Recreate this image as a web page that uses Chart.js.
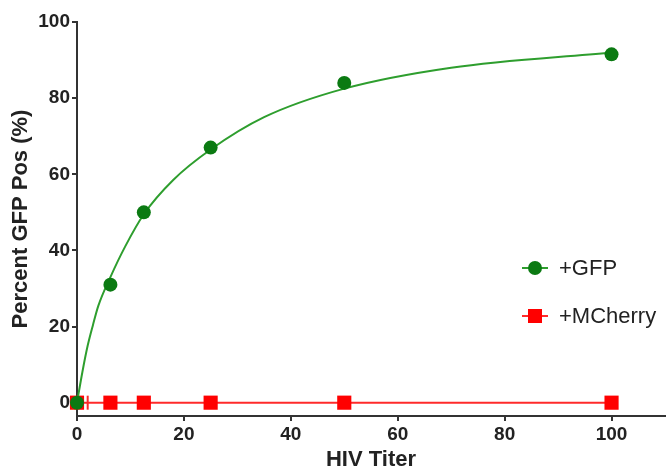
<!DOCTYPE html>
<html>
<head>
<meta charset="utf-8">
<script src="https://cdn.jsdelivr.net/npm/chart.js@4.4.0/dist/chart.umd.min.js"></script>
<style>
  html, body { margin: 0; padding: 0; background: #fff; }
  #wrap { width: 667px; height: 473px; }
</style>
</head>
<body>
<div id="wrap"><canvas id="myChart" width="667" height="473"></canvas></div>
<script>
// data
const titerValues = [0, 6.25, 12.5, 25, 50, 100];
const gfpValues = [0, 31, 50, 67, 84, 91.5];
const mcherryValues = [0, 0, 0, 0, 0, 0];
// x error of the first mcherry point (the little cap right of 0)
const mcherryErrX = 2;
// fitted curve at a few x positions
const fitX = [0, 1, 2, 3, 4, 6.25, 9, 12.5, 18, 25, 35, 50, 70, 100];
const fitY = [0, 8, 15, 20.5, 25.5, 33, 41, 49.5, 58.5, 66.5, 75, 82.5, 88, 92];
const xTicks = [0, 20, 40, 60, 80, 100];
const yTicks = [0, 20, 40, 60, 80, 100];

const toPoints = (xs, ys) => xs.map((x, i) => ({ x: x, y: ys[i] }));

const axisColor = '#333';
const fontFam = 'Liberation Sans, Arial, sans-serif';
const tickFont = { family: fontFam, size: 19, weight: 'bold' };
const titleFont = { family: fontFam, size: 22, weight: 'bold' };

// legend drawn by hand, to sit inside the plot on the right
const sideLegend = {
  id: 'sideLegend',
  afterDraw(chart) {
    const ctx = chart.ctx;
    const items = [
      { ds: chart.data.datasets[0], y: 268 },
      { ds: chart.data.datasets[2], y: 316 }
    ];
    ctx.save();
    items.forEach(it => {
      ctx.strokeStyle = it.ds.borderColor;
      ctx.lineWidth = 2;
      ctx.beginPath();
      ctx.moveTo(522, it.y);
      ctx.lineTo(548, it.y);
      ctx.stroke();
      ctx.fillStyle = it.ds.pointBackgroundColor;
      if (it.ds.pointStyle === 'rect') {
        ctx.fillRect(528, it.y - 7, 14, 14);
      } else {
        ctx.beginPath();
        ctx.arc(535, it.y, 7, 0, Math.PI * 2);
        ctx.fill();
      }
      ctx.fillStyle = '#222';
      ctx.font = '22px ' + fontFam;
      ctx.textBaseline = 'middle';
      ctx.fillText(it.ds.label, 559, it.y + 1);
    });

    // error cap on the first mcherry point
    const xs = chart.scales.x, ys = chart.scales.y;
    const px = xs.getPixelForValue(mcherryErrX);
    const py = ys.getPixelForValue(mcherryValues[0]);
    ctx.strokeStyle = '#ff2a2a';
    ctx.lineWidth = 2;
    ctx.beginPath();
    ctx.moveTo(px, py - 7);
    ctx.lineTo(px, py + 7);
    ctx.stroke();
    ctx.restore();
  }
};

const keepTicks = list => axis => {
  axis.ticks = list.map(v => ({ value: v }));
};

new Chart(document.getElementById('myChart'), {
  type: 'scatter',
  data: {
    datasets: [
      {
        label: '+GFP',
        data: toPoints(titerValues, gfpValues),
        showLine: false,
        borderColor: '#2e9e2e',
        backgroundColor: '#0b7a12',
        pointBackgroundColor: '#0b7a12',
        pointBorderWidth: 0,
        pointRadius: 7,
        pointStyle: 'circle',
        clip: false
      },
      {
        label: 'fit',
        data: toPoints(fitX, fitY),
        showLine: true,
        borderColor: '#2e9e2e',
        borderWidth: 2,
        pointRadius: 0,
        cubicInterpolationMode: 'monotone',
        clip: false
      },
      {
        label: '+MCherry',
        data: toPoints(titerValues, mcherryValues),
        showLine: true,
        borderColor: '#ff2a2a',
        borderWidth: 2,
        backgroundColor: '#ff0000',
        pointBackgroundColor: '#ff0000',
        pointBorderWidth: 0,
        pointStyle: 'rect',
        pointRadius: 10,
        clip: false
      }
    ]
  },
  options: {
    responsive: false,
    animation: false,
    layout: { autoPadding: false, padding: { left: 0, right: 2, top: 22, bottom: 0 } },
    plugins: {
      legend: { display: false },
      tooltip: { enabled: false }
    },
    scales: {
      x: {
        type: 'linear',
        min: 0,
        max: 110,
        afterBuildTicks: keepTicks(xTicks),
        afterFit(axis) {
          axis.height = 57;
          axis.paddingLeft = 0;
          axis.paddingRight = 0;
        },
        border: { color: axisColor, width: 2 },
        grid: { drawOnChartArea: false, drawTicks: true, tickLength: 5, color: axisColor, lineWidth: 2 },
        ticks: { font: tickFont, color: '#222', padding: 2, maxRotation: 0 },
        title: { display: true, text: 'HIV Titer', font: titleFont, color: '#222', padding: { top: 0, bottom: 0 } }
      },
      y: {
        type: 'linear',
        min: -3.5,
        max: 100,
        afterBuildTicks: keepTicks(yTicks),
        afterFit(axis) { axis.width = 77; },
        border: { color: axisColor, width: 2 },
        grid: { drawOnChartArea: false, drawTicks: true, tickLength: 5, color: axisColor, lineWidth: 2 },
        ticks: { font: tickFont, color: '#222', padding: 2 },
        title: { display: true, text: 'Percent GFP Pos (%)', font: titleFont, color: '#222', padding: { top: 8, bottom: 0 } }
      }
    }
  },
  plugins: [sideLegend]
});
</script>
</body>
</html>
